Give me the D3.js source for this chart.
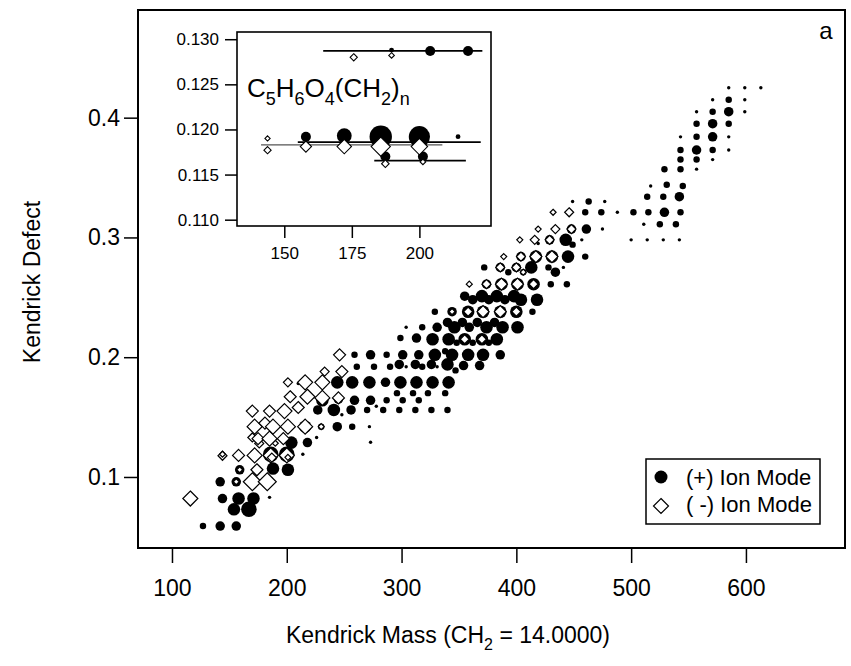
<!DOCTYPE html>
<html>
<head>
<meta charset="utf-8">
<script src="https://cdn.jsdelivr.net/npm/d3@7"></script>
<style>
  body { margin: 0; background: #fff; }
  text { font-family: "Liberation Sans", Arial, sans-serif; fill: #000; }
</style>
</head>
<body>
<svg id="chart" width="851" height="666"></svg>
<script>
// ---- data: [Kendrick mass, Kendrick defect, relative intensity] ----
var posIon = [
  [127,0.059,2],[142,0.059,3],[156,0.059,3],
  [154,0.073,4],[167,0.073,5],
  [144,0.082,3],[158,0.082,4],[171,0.082,4],[185,0.083,1],
  [142,0.096,3],[156,0.096,3],[170,0.096,4],[183,0.096,4],
  [159,0.106,3],[188,0.107,4],[201,0.106,4],
  [158,0.119,2],[172,0.119,3],[186,0.119,5],[200,0.119,5],[214,0.119,1],
  [187,0.117,3],[201,0.117,3],
  [190,0.1288,1],[204,0.1287,4],[218,0.1287,3],
  [226,0.133,1],[273,0.129,1],
  [216,0.142,4],[230,0.142,2],[244,0.142,3],[257,0.142,2],[272,0.142,1],
  [248,0.152,1],
  [227,0.156,3],[241,0.156,4],[256,0.156,3],[270,0.156,2],[278,0.159,1],[284,0.156,2],[298,0.156,2],[312,0.156,2],[326,0.156,2],[340,0.156,2],
  [231,0.164,4],[245,0.165,3],[259,0.164,3],[273,0.164,3],[287,0.164,2],[301,0.164,2],[315,0.164,2],
  [296,0.170,2],[310,0.170,2],[323,0.170,2],[338,0.170,2],
  [210,0.178,1],[244,0.179,4],[257,0.179,4],[272,0.179,4],[286,0.179,3],[299,0.179,4],[313,0.179,4],[327,0.179,4],[341,0.179,4],
  [261,0.192,2],[276,0.192,2],[290,0.192,2],[304,0.192,1],[318,0.192,2],[331,0.192,1],
  [298,0.194,3],[312,0.194,3],[326,0.194,3],[340,0.194,4],[354,0.193,3],[368,0.193,3],[347,0.189,2],
  [259,0.202,2],[273,0.202,3],[287,0.202,2],[301,0.202,3],[315,0.202,3],[329,0.202,4],[344,0.202,4],[358,0.202,4],[371,0.202,4],[386,0.202,3],
  [338,0.205,2],
  [299,0.216,2],[313,0.216,3],[327,0.215,4],[341,0.215,4],[355,0.215,4],[370,0.215,4],[383,0.215,4],
  [348,0.212,2],[362,0.212,2],[376,0.212,2],
  [304,0.225,1],[318,0.225,2],[331,0.225,3],[346,0.225,4],[359,0.225,3],[374,0.225,4],[388,0.225,4],[401,0.225,4],
  [340,0.229,3],[353,0.229,3],[366,0.229,3],[381,0.229,3],
  [329,0.238,2],[344,0.238,3],[358,0.238,4],[371,0.238,4],[386,0.238,4],[400,0.238,4],[414,0.238,2],
  [355,0.251,3],[370,0.251,4],[383,0.251,4],[398,0.251,4],
  [362,0.248,3],[376,0.248,3],[390,0.248,3],[404,0.248,4],[418,0.248,4],
  [374,0.261,3],[387,0.261,4],[401,0.261,4],[415,0.261,4],[430,0.261,2],[444,0.261,2],
  [372,0.275,2],[386,0.275,3],[400,0.275,3],[413,0.275,4],[428,0.275,2],[441,0.275,1],
  [393,0.271,2],[406,0.271,2],[434,0.271,3],
  [404,0.284,3],[417,0.284,4],[431,0.284,4],[445,0.284,4],[460,0.284,2],
  [429,0.298,3],[443,0.298,4],[457,0.298,1],[449,0.294,2],[419,0.295,1],
  [500,0.298,1],[514,0.298,1],[528,0.298,1],[542,0.298,1],
  [448,0.307,3],[461,0.307,3],[475,0.307,1],
  [511,0.311,1],[525,0.311,2],[539,0.311,2],
  [460,0.321,2],[474,0.321,2],[488,0.321,1],[502,0.321,2],[515,0.321,2],[529,0.321,3],[543,0.321,2],
  [449,0.330,1],[463,0.330,2],[477,0.330,1],
  [514,0.334,2],[528,0.334,2],[542,0.334,3],
  [517,0.343,1],[531,0.344,2],[545,0.343,2],
  [529,0.357,2],[543,0.357,2],[557,0.357,1],
  [543,0.365,2],[557,0.365,2],[571,0.365,1],
  [543,0.373,2],[557,0.373,3],[571,0.373,2],[585,0.373,1],
  [543,0.384,1],[557,0.384,2],[571,0.384,3],[585,0.384,1],
  [557,0.395,2],[571,0.395,3],[585,0.395,2],
  [557,0.405,1],[571,0.405,2],[585,0.405,3],[599,0.405,1],
  [571,0.415,1],[585,0.415,2],[599,0.415,1],
  [585,0.425,1],[599,0.425,1],[613,0.425,1]
];

var negIon = [
  [116,0.082,4],
  [144,0.1177,2],[144,0.119,1],[158,0.118,3],[172,0.118,4],[186,0.118,4],[200,0.118,4],
  [187,0.1162,2],[201,0.1164,1],[176,0.128,2],[190,0.1282,1],
  [156,0.096,1],[170,0.096,5],[183,0.096,5],
  [159,0.106,1],[174,0.106,3],
  [170,0.133,2],[175,0.132,3],[185,0.132,4],[197,0.132,3],
  [172,0.142,4],[181,0.145,3],[188,0.142,4],[201,0.142,4],[216,0.142,4],[230,0.142,1],
  [170,0.155,3],[185,0.155,3],[198,0.155,4],[210,0.158,3],
  [203,0.167,3],[218,0.167,4],[231,0.166,4],[245,0.166,3],
  [201,0.179,2],[216,0.179,4],[231,0.179,4],
  [233,0.188,2],[248,0.188,3],
  [246,0.202,3],
  [355,0.215,2],[370,0.215,2],
  [344,0.238,1],[358,0.238,2],[371,0.238,3],[386,0.238,3],[400,0.238,2],
  [359,0.261,1],[374,0.261,2],[387,0.261,3],[401,0.261,3],[415,0.261,2],
  [386,0.275,2],[400,0.275,2],[406,0.271,1],
  [389,0.284,1],[404,0.284,2],[417,0.284,3],[431,0.284,3],
  [403,0.298,1],[416,0.298,2],[429,0.298,2],
  [419,0.307,1],[434,0.307,2],[448,0.307,2],
  [432,0.321,1],[446,0.321,2]
];

// inset: C5H6O4(CH2)n series
var insetPos = [
  [158,0.1192,2.5],[172.2,0.1193,3.7],[185.7,0.1192,5.6],[200,0.1192,5.3],[214.3,0.1192,1.2],
  [187.4,0.1170,2.5],[201.3,0.1170,2.5],
  [189.7,0.1288,1.2],[204,0.1287,2.5],[218,0.1287,2.5]
];
var insetNeg = [
  [143.8,0.1190,1.3],[143.8,0.1177,1.8],[158,0.1181,2.8],[172.2,0.1181,3.6],[185.7,0.1181,4.8],[200,0.1181,4.1],
  [187.4,0.1162,1.9],[201.3,0.1164,1.4],
  [175.7,0.1280,1.8],[189.7,0.1282,1.4]
];
var insetFits = [
  {x0:164.4, x1:223.3, k:0.1287, mode:"pos"},
  {x0:155.0, x1:222.7, k:0.1186, mode:"pos"},
  {x0:141.4, x1:208.5, k:0.1183, mode:"neg"},
  {x0:183.3, x1:217.2, k:0.11654, mode:"pos"}
];

var xTicks = [100, 200, 300, 400, 500, 600];
var yTicks = [0.1, 0.2, 0.3, 0.4];
var insetXTicks = [150, 175, 200];
var insetYTicks = [0.110, 0.115, 0.120, 0.125, 0.130];
var legendLabels = ["(+) Ion Mode", "( -) Ion Mode"];

// ---- drawing ----
var svg = d3.select("#chart");
var frame = {left: 138, top: 10, right: 845, bottom: 548};

var x = d3.scaleLinear().domain([70.4, 686.3]).range([frame.left, frame.right]);
var y = d3.scaleLinear().domain([0.0407, 0.4899]).range([frame.bottom, frame.top]);
var rMain = d3.scaleLinear().domain([1, 5]).range([1.7, 7.8]);
var dMain = d3.scaleLinear().domain([1, 5]).range([3, 9]);

function diamond(s) {
  return "M0," + (-s) + "L" + s + ",0L0," + s + "L" + (-s) + ",0Z";
}

svg.append("rect").attr("width", 851).attr("height", 666).attr("fill", "#fff");

svg.append("clipPath").attr("id", "clip-main")
  .append("rect")
    .attr("x", frame.left).attr("y", frame.top)
    .attr("width", frame.right - frame.left).attr("height", frame.bottom - frame.top);

var plot = svg.append("g").attr("clip-path", "url(#clip-main)");

plot.selectAll("circle.pos")
  .data(posIon)
  .enter().append("circle")
    .attr("class", "pos")
    .attr("cx", function(d) { return x(d[0]); })
    .attr("cy", function(d) { return y(d[1]); })
    .attr("r", function(d) { return rMain(d[2]); })
    .attr("fill", "#000");

plot.selectAll("path.neg")
  .data(negIon)
  .enter().append("path")
    .attr("class", "neg")
    .attr("transform", function(d) { return "translate(" + x(d[0]) + "," + y(d[1]) + ")"; })
    .attr("d", function(d) { return diamond(dMain(d[2])); })
    .attr("fill", "#fff")
    .attr("stroke", "#000")
    .attr("stroke-width", 1.2);

// axes
var xAxis = svg.append("g")
    .attr("transform", "translate(0," + frame.bottom + ")")
    .call(d3.axisBottom(x).tickValues(xTicks).tickSize(15).tickSizeOuter(0).tickPadding(17));
xAxis.select(".domain").remove();
xAxis.selectAll("line").attr("stroke-width", 1.5);
xAxis.selectAll("text").style("font-size", "23px").attr("font-family", null);

var yAxis = svg.append("g")
    .attr("transform", "translate(" + frame.left + ",0)")
    .call(d3.axisLeft(y).tickValues(yTicks).tickFormat(d3.format(".1f")).tickSize(14).tickSizeOuter(0).tickPadding(4));
yAxis.select(".domain").remove();
yAxis.selectAll("line").attr("stroke-width", 1.5);
yAxis.selectAll("text").style("font-size", "23px").attr("font-family", null);

svg.append("rect")
    .attr("x", frame.left).attr("y", frame.top)
    .attr("width", frame.right - frame.left).attr("height", frame.bottom - frame.top)
    .attr("fill", "none").attr("stroke", "#000").attr("stroke-width", 2);

svg.append("text")
    .attr("x", 826).attr("y", 39)
    .attr("text-anchor", "middle")
    .style("font-size", "24px")
    .text("a");

// axis titles
var xTitle = svg.append("text")
    .attr("x", 448).attr("y", 643)
    .attr("text-anchor", "middle")
    .style("font-size", "23px");
xTitle.append("tspan").text("Kendrick Mass (CH");
xTitle.append("tspan").attr("dy", 7).style("font-size", "16px").text("2");
xTitle.append("tspan").attr("dy", -7).text(" = 14.0000)");

svg.append("text")
    .attr("transform", "translate(40,282) rotate(-90)")
    .attr("text-anchor", "middle")
    .style("font-size", "23px")
    .text("Kendrick Defect");

// legend
var legend = svg.append("g");
legend.append("rect")
    .attr("x", 646).attr("y", 459).attr("width", 174).attr("height", 65)
    .attr("fill", "#fff").attr("stroke", "#000").attr("stroke-width", 1.5);
legend.append("circle").attr("cx", 661).attr("cy", 477).attr("r", 6.5).attr("fill", "#000");
legend.append("path")
    .attr("transform", "translate(661,506)")
    .attr("d", diamond(7.5))
    .attr("fill", "#fff").attr("stroke", "#000").attr("stroke-width", 1.2);
legend.selectAll("text.lab")
  .data(legendLabels)
  .enter().append("text")
    .attr("class", "lab")
    .attr("x", 686)
    .attr("y", function(d, i) { return 485 + i * 27; })
    .style("font-size", "22px")
    .text(function(d) { return d; });

// ---- inset ----
var inFrame = {left: 237, top: 32, right: 491, bottom: 226};
var ix = d3.scaleLinear().domain([132.5, 226.5]).range([inFrame.left, inFrame.right]);
var iy = d3.scaleLinear().domain([0.1093, 0.1308]).range([inFrame.bottom, inFrame.top]);
var rInset = d3.scaleLinear().domain([0, 5]).range([0, 10]);

var inset = svg.append("g");
inset.append("rect")
    .attr("x", inFrame.left).attr("y", inFrame.top)
    .attr("width", inFrame.right - inFrame.left).attr("height", inFrame.bottom - inFrame.top)
    .attr("fill", "#fff");

inset.selectAll("line.fit")
  .data(insetFits)
  .enter().append("line")
    .attr("class", "fit")
    .attr("x1", function(d) { return ix(d.x0); })
    .attr("x2", function(d) { return ix(d.x1); })
    .attr("y1", function(d) { return iy(d.k); })
    .attr("y2", function(d) { return iy(d.k); })
    .attr("stroke", function(d) { return d.mode === "neg" ? "#555" : "#000"; })
    .attr("stroke-width", function(d) { return d.mode === "neg" ? 1.2 : 1.8; });

inset.selectAll("circle.ipos")
  .data(insetPos)
  .enter().append("circle")
    .attr("class", "ipos")
    .attr("cx", function(d) { return ix(d[0]); })
    .attr("cy", function(d) { return iy(d[1]); })
    .attr("r", function(d) { return rInset(d[2]); })
    .attr("fill", "#000");

inset.selectAll("path.ineg")
  .data(insetNeg)
  .enter().append("path")
    .attr("class", "ineg")
    .attr("transform", function(d) { return "translate(" + ix(d[0]) + "," + iy(d[1]) + ")"; })
    .attr("d", function(d) { return diamond(rInset(d[2])); })
    .attr("fill", "#fff")
    .attr("stroke", "#000")
    .attr("stroke-width", 1.1);

var ixAxis = inset.append("g")
    .attr("transform", "translate(0," + inFrame.bottom + ")")
    .call(d3.axisBottom(ix).tickValues(insetXTicks).tickSize(12).tickSizeOuter(0).tickPadding(9));
ixAxis.select(".domain").remove();
ixAxis.selectAll("line").attr("stroke-width", 1.5);
ixAxis.selectAll("text").style("font-size", "17px").attr("font-family", null);

var iyAxis = inset.append("g")
    .attr("transform", "translate(" + inFrame.left + ",0)")
    .call(d3.axisLeft(iy).tickValues(insetYTicks).tickFormat(d3.format(".3f")).tickSize(12).tickSizeOuter(0).tickPadding(6));
iyAxis.select(".domain").remove();
iyAxis.selectAll("line").attr("stroke-width", 1.5);
iyAxis.selectAll("text").style("font-size", "17px").attr("font-family", null);

inset.append("rect")
    .attr("x", inFrame.left).attr("y", inFrame.top)
    .attr("width", inFrame.right - inFrame.left).attr("height", inFrame.bottom - inFrame.top)
    .attr("fill", "none").attr("stroke", "#000").attr("stroke-width", 1.6);

var formula = inset.append("text")
    .attr("x", 247).attr("y", 97)
    .style("font-size", "26px");
[["C", 0], ["5", 1], ["H", 0], ["6", 1], ["O", 0], ["4", 1], ["(CH", 0], ["2", 1], [")", 0], ["n", 1]]
  .forEach(function(p, i, arr) {
    var prevSub = i > 0 && arr[i - 1][1];
    var dy = p[1] && !prevSub ? 8 : (!p[1] && prevSub ? -8 : 0);
    formula.append("tspan")
        .attr("dy", dy)
        .style("font-size", p[1] ? "18px" : "26px")
        .text(p[0]);
  });
</script>
</body>
</html>
